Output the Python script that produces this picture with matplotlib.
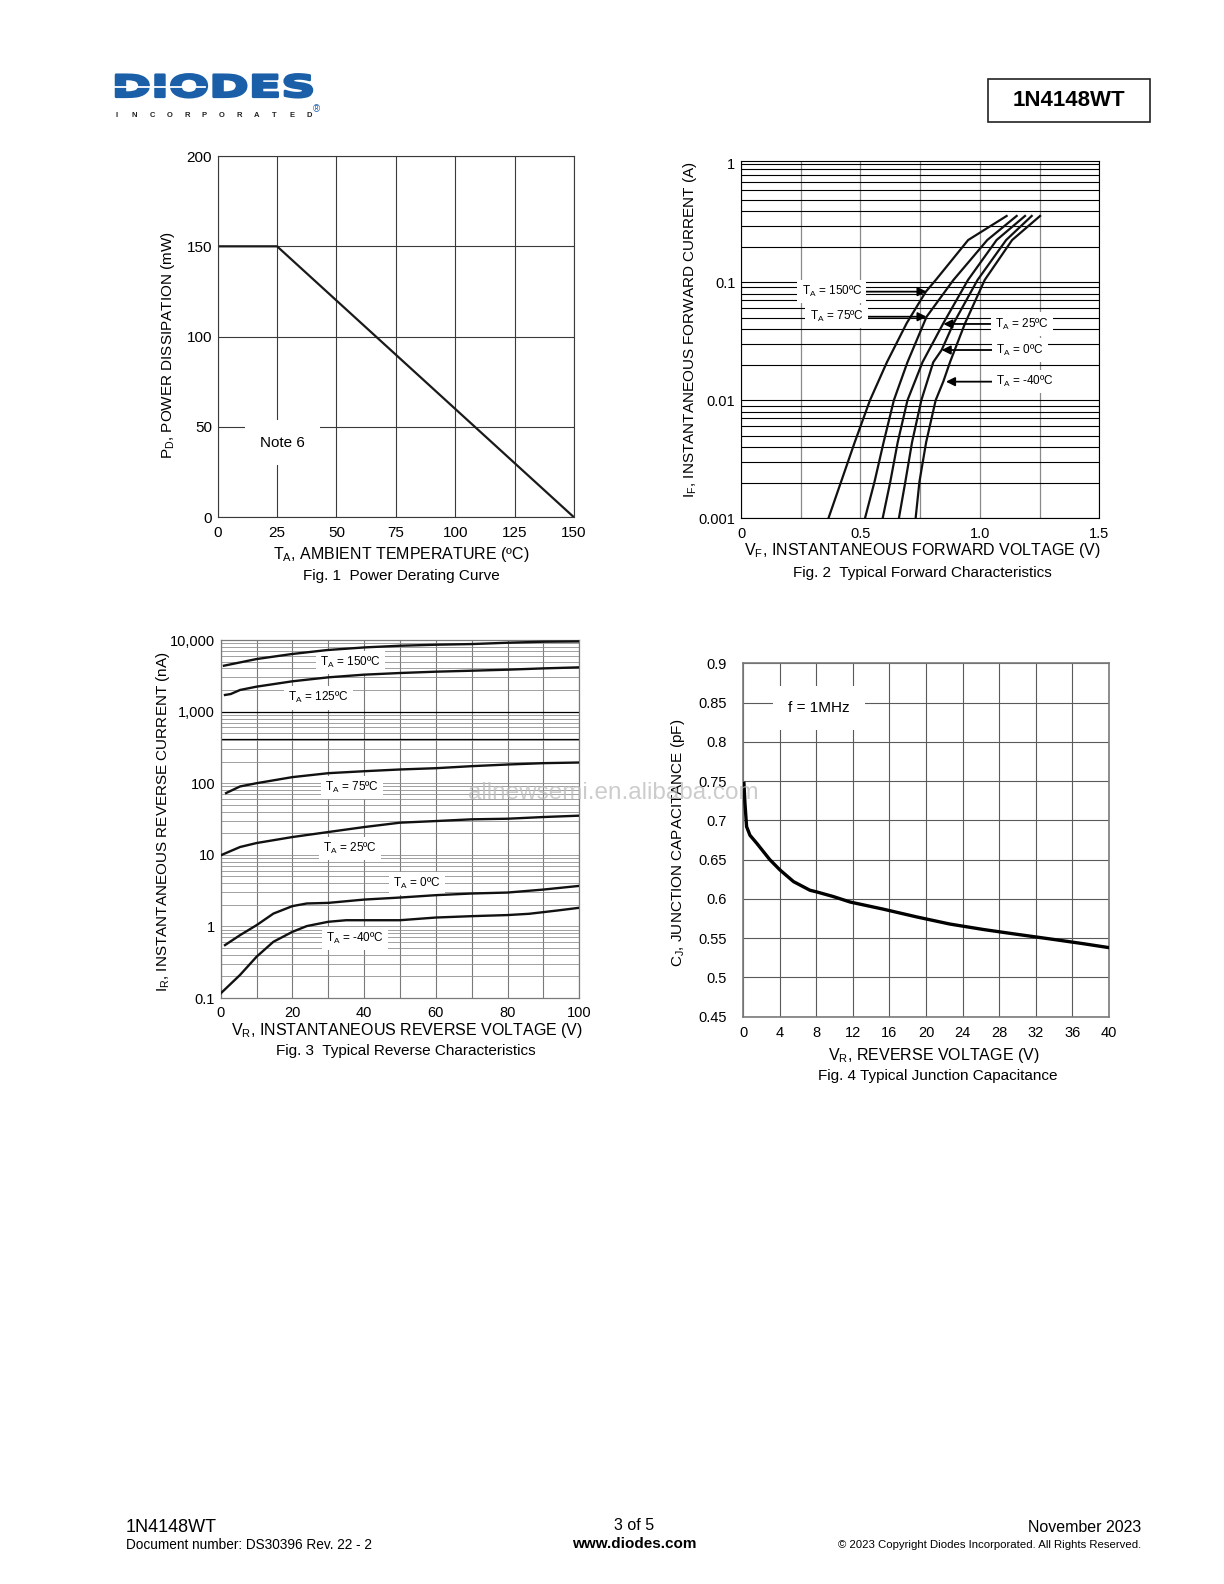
import matplotlib.pyplot as plt
from matplotlib.patches import PathPatch, Rectangle
from matplotlib.textpath import TextPath
from matplotlib.font_manager import FontProperties
from matplotlib.transforms import Affine2D
from matplotlib.ticker import LogLocator, NullFormatter

# 1N4148WT datasheet page 3 - typical characteristics

plt.rcParams['font.family'] = ['Liberation Sans', 'DejaVu Sans']
plt.rcParams['mathtext.fontset'] = 'custom'
plt.rcParams['mathtext.rm'] = 'Liberation Sans'
plt.rcParams['mathtext.it'] = 'Liberation Sans:italic'
plt.rcParams['mathtext.bf'] = 'Liberation Sans:bold'

# Fig. 1 power derating
ta_c = [0, 25, 150]
pd_mw = [150, 150, 0]

# Fig. 2 forward characteristics (V, A)
vf_150 = [0.366, 0.419, 0.476, 0.54, 0.611, 0.694, 0.774, 0.815, 0.951, 1.112]
if_150 = [0.001, 0.00204, 0.0044, 0.01, 0.021, 0.045, 0.083, 0.104, 0.227, 0.363]
vf_75 = [0.519, 0.559, 0.597, 0.64, 0.697, 0.777, 0.889, 1.031, 1.154]
if_75 = [0.001, 0.00204, 0.0044, 0.01, 0.021, 0.0509, 0.104, 0.227, 0.363]
vf_25 = [0.593, 0.625, 0.656, 0.697, 0.76, 0.847, 0.95, 1.07, 1.189]
if_25 = [0.001, 0.00204, 0.0044, 0.01, 0.021, 0.0448, 0.104, 0.227, 0.363]
vf_0 = [0.661, 0.688, 0.716, 0.755, 0.805, 0.84, 0.89, 0.99, 1.11, 1.217]
if_0 = [0.001, 0.00204, 0.0044, 0.01, 0.021, 0.0266, 0.0448, 0.104, 0.227, 0.363]
vf_m40 = [0.731, 0.747, 0.775, 0.815, 0.847, 0.875, 0.938, 1.02, 1.135, 1.252]
if_m40 = [0.001, 0.00204, 0.0044, 0.01, 0.0144, 0.021, 0.0448, 0.104, 0.227, 0.363]

# Fig. 3 reverse characteristics (V, nA)
vr_150 = [0.9, 10, 19.8, 29.6, 40.2, 50, 60, 70, 80, 90, 100]
ir_150 = [4375, 5420, 6365, 7230, 7885, 8315, 8590, 8775, 9160, 9460, 9550]
vr_125 = [1.2, 2.8, 5.4, 10, 20, 30, 40, 50, 60, 70, 80, 90, 100]
ir_125 = [1707, 1760, 2005, 2230, 2650, 3010, 3280, 3460, 3610, 3725, 3850, 4015, 4150]
vr_75 = [1.5, 5.4, 10, 20, 30, 40, 50, 60, 70, 80, 90, 100]
ir_75 = [72.8, 90.1, 100, 121.6, 138, 147, 155.5, 162, 173, 182.4, 190.5, 194.5]
vr_25 = [0, 5.4, 10, 20, 30, 40, 50, 60, 70, 80, 90, 100]
ir_25 = [9.84, 12.85, 14.6, 17.7, 20.8, 24.4, 28.1, 29.6, 31.3, 31.9, 33.7, 35.2]
vr_0 = [1.2, 5.4, 10, 14.7, 20, 24, 30, 40, 50, 60, 70, 80, 90, 100]
ir_0 = [0.548, 0.755, 1.04, 1.51, 1.92, 2.09, 2.13, 2.37, 2.53, 2.73, 2.88, 2.97, 3.27, 3.68]
vr_m40 = [0, 5.4, 10, 14.7, 20, 24, 30, 35, 40, 50, 60, 70, 80, 86, 94, 100]
ir_m40 = [0.116, 0.21, 0.377, 0.61, 0.84, 1.01, 1.16, 1.22, 1.22, 1.22, 1.33, 1.39, 1.44, 1.50, 1.67, 1.82]

# Fig. 4 junction capacitance (V, pF)
vr_cj = [0.07, 0.18, 0.36, 0.73, 1.46, 2.9, 4.0, 5.5, 7.3, 8, 9.85, 11.7, 15.3, 19, 22.6, 26.3, 29.9, 33.6, 37.2, 40]
cj_pf = [0.747, 0.722, 0.692, 0.681, 0.671, 0.650, 0.637, 0.622, 0.611, 0.609, 0.603, 0.596, 0.587,
         0.577, 0.568, 0.561, 0.555, 0.549, 0.543, 0.538]

W, H = 1224, 1584
fig = plt.figure(figsize=(W / 100, H / 100), dpi=100)


def box(x0, y0, x1, y1):
    return [x0 / W, 1 - y1 / H, (x1 - x0) / W, (y1 - y0) / H]


def label_box(pad=3):
    return dict(facecolor='white', edgecolor='none', pad=pad)


TICK_FS = 10.5
LAB_FS = 11

# ---------- Fig 1 ----------
ax1 = fig.add_axes(box(217.7, 156, 574, 517.3))
ax1.plot(ta_c, pd_mw, color='#1a1a1a', lw=1.6)
ax1.set_xlim(0, 150)
ax1.set_ylim(0, 200)
ax1.set_xticks(range(0, 151, 25))
ax1.set_yticks(range(0, 201, 50))
ax1.grid(True, color='#3a3a3a', lw=0.8)
ax1.tick_params(length=0, labelsize=TICK_FS + 0.5, pad=4)
ax1.tick_params(axis='x', pad=6)
for s in ax1.spines.values():
    s.set_color('#3a3a3a')
    s.set_linewidth(0.8)
ax1.text(27.2, 41.3, 'Note 6', ha='center', va='center', fontsize=LAB_FS, bbox=label_box(11), zorder=3)

# ---------- Fig 2 ----------
ax2 = fig.add_axes(box(741, 160.7, 1099.3, 518.3))
for v, i in [(vf_150, if_150), (vf_75, if_75), (vf_25, if_25), (vf_0, if_0), (vf_m40, if_m40)]:
    ax2.plot(v, i, color='#111111', lw=1.6, zorder=4)
ax2.set_yscale('log')
ax2.set_xlim(0, 1.5)
ax2.set_ylim(0.001, 1.066)
ax2.set_xticks([0, 0.25, 0.5, 0.75, 1.0, 1.25, 1.5])
ax2.set_xticklabels(['0', '', '0.5', '', '1.0', '', '1.5'])
ax2.set_yticks([0.001, 0.01, 0.1, 1])
ax2.set_yticklabels(['0.001', '0.01', '0.1', '1'])
ax2.yaxis.set_minor_locator(LogLocator(base=10, subs=range(2, 10)))
ax2.yaxis.set_minor_formatter(NullFormatter())
ax2.grid(True, axis='y', which='both', color='black', lw=0.8)
ax2.grid(True, axis='x', color='#8a8a8a', lw=0.9)
ax2.tick_params(which='both', length=0, labelsize=TICK_FS, pad=4)
ax2.tick_params(axis='x', pad=6)
for s in ax2.spines.values():
    s.set_color('black')
    s.set_linewidth(0.8)
arrow = dict(arrowstyle='-|>', color='black', lw=1.3, mutation_scale=13, shrinkA=0, shrinkB=0)
fig2_labels = [
    ('T$_\\mathregular{A}$ = 150ºC', (0.38, 0.083), (0.777, 0.083)),
    ('T$_\\mathregular{A}$ = 75ºC', (0.40, 0.0509), (0.777, 0.0509)),
    ('T$_\\mathregular{A}$ = 25ºC', (1.175, 0.0442), (0.847, 0.0442)),
    ('T$_\\mathregular{A}$ = 0ºC', (1.168, 0.0266), (0.840, 0.0266)),
    ('T$_\\mathregular{A}$ = -40ºC', (1.19, 0.01435), (0.858, 0.01435)),
]
for txt, xyt, xy in fig2_labels:
    ax2.annotate(txt, xy=xy, xytext=xyt, ha='center', va='center', fontsize=8.5,
                 bbox=label_box(3), arrowprops=arrow, zorder=5)

# ---------- Fig 3 ----------
ax3 = fig.add_axes(box(220.7, 640, 579.3, 998))
for v, i in [(vr_150, ir_150), (vr_125, ir_125), (vr_75, ir_75), (vr_25, ir_25), (vr_0, ir_0), (vr_m40, ir_m40)]:
    ax3.plot(v, i, color='#111111', lw=1.7, zorder=4)
ax3.set_yscale('log')
ax3.set_xlim(0, 100)
ax3.set_ylim(0.1, 10000)
ax3.set_xticks(range(0, 101, 10))
ax3.set_xticklabels(['0', '', '20', '', '40', '', '60', '', '80', '', '100'])
ax3.set_yticks([0.1, 1, 10, 100, 1000, 10000])
ax3.set_yticklabels(['0.1', '1', '10', '100', '1,000', '10,000'])
ax3.yaxis.set_minor_locator(LogLocator(base=10, subs=range(2, 10)))
ax3.yaxis.set_minor_formatter(NullFormatter())
ax3.grid(True, which='both', axis='y', color='#909090', lw=0.6)
ax3.grid(True, axis='x', color='#7a7a7a', lw=0.8)
ax3.axhline(1000, color='black', lw=0.9)
ax3.axhline(417, color='black', lw=0.9)
ax3.tick_params(which='both', length=0, labelsize=TICK_FS, pad=4)
ax3.tick_params(axis='x', pad=6)
for s in ax3.spines.values():
    s.set_color('#7a7a7a')
    s.set_linewidth(0.9)
fig3_labels = [
    ('T$_\\mathregular{A}$ = 150ºC', 36.1, 4860),
    ('T$_\\mathregular{A}$ = 125ºC', 27.3, 1552),
    ('T$_\\mathregular{A}$ = 75ºC', 36.6, 86.5),
    ('T$_\\mathregular{A}$ = 25ºC', 36.1, 12.2),
    ('T$_\\mathregular{A}$ = 0ºC', 54.7, 3.97),
    ('T$_\\mathregular{A}$ = -40ºC', 37.5, 0.68),
]
for txt, x, y in fig3_labels:
    ax3.text(x, y, txt, ha='center', va='center', fontsize=8.5, bbox=label_box(3), zorder=3)

# ---------- Fig 4 ----------
ax4 = fig.add_axes(box(743.3, 663.3, 1108.7, 1016.7))
ax4.plot(vr_cj, cj_pf, color='black', lw=2.4, zorder=4)
ax4.set_xlim(0, 40)
ax4.set_ylim(0.45, 0.9)
ax4.set_xticks(range(0, 41, 4))
yt = [0.45, 0.5, 0.55, 0.6, 0.65, 0.7, 0.75, 0.8, 0.85, 0.9]
ax4.set_yticks(yt)
ax4.set_yticklabels([f'{v:g}' for v in yt])
ax4.grid(True, color='#5a5a5a', lw=0.8)
ax4.tick_params(length=0, labelsize=TICK_FS, pad=12)
ax4.tick_params(axis='x', pad=7)
for s in ax4.spines.values():
    s.set_color('#7a7a7a')
    s.set_linewidth(1.2)
ax4.text(8.29, 0.843, 'f = 1MHz', ha='center', va='center', fontsize=LAB_FS, bbox=label_box(11), zorder=3)

# ---------- page overlay ----------
page = fig.add_axes([0, 0, 1, 1], zorder=10)
page.set_xlim(0, W)
page.set_ylim(H, 0)
page.axis('off')
page.patch.set_visible(False)

# logo
blue = '#1a5fa8'
tp = TextPath((0, 0), 'DIODES', size=1, prop=FontProperties(family='DejaVu Sans', weight='bold'))
bb = tp.get_extents()
lx0, lx1, ly0, ly1 = 116, 312, 74.3, 97.3
tr = Affine2D().translate(-bb.x0, -bb.y0).scale((lx1 - lx0) / bb.width, -(ly1 - ly0) / bb.height).translate(lx0, ly1)
page.add_patch(PathPatch(tr.transform_path(tp), facecolor=blue, edgecolor=blue, lw=1.8, joinstyle='round'))
page.plot([115, 205], [86.5, 86.5], color='white', lw=1.3)
for k, ch in enumerate('INCORPORATED'):
    page.text(117 + k * 17.5, 115.5, ch, ha='center', va='center', fontsize=5.5, fontweight='bold', color='#222222')
page.text(316, 109, '®', ha='center', va='center', fontsize=7, color=blue)

# part number box
page.add_patch(Rectangle((988.3, 79.3), 161.7, 42.4, fill=False, edgecolor='#222222', lw=1.2))
page.text(1069, 101, '1N4148WT', ha='center', va='center', fontsize=16, fontweight='bold')

# axis labels and captions
page.text(168, 345, 'P$_\\mathregular{D}$, POWER DISSIPATION (mW)', rotation=90, ha='center', va='center', fontsize=LAB_FS)
page.text(401.7, 559, 'T$_\\mathregular{A}$, AMBIENT TEMPERATURE (ºC)', ha='center', va='baseline', fontsize=LAB_FS + 0.5)
page.text(401.7, 580, 'Fig. 1  Power Derating Curve', ha='center', va='baseline', fontsize=LAB_FS)

page.text(690, 330, 'I$_\\mathregular{F}$, INSTANTANEOUS FORWARD CURRENT (A)', rotation=90, ha='center', va='center', fontsize=LAB_FS)
page.text(922.3, 555, 'V$_\\mathregular{F}$, INSTANTANEOUS FORWARD VOLTAGE (V)', ha='center', va='baseline', fontsize=LAB_FS + 0.5)
page.text(922.5, 576.5, 'Fig. 2  Typical Forward Characteristics', ha='center', va='baseline', fontsize=LAB_FS)

page.text(163.3, 821.7, 'I$_\\mathregular{R}$, INSTANTANEOUS REVERSE CURRENT (nA)', rotation=90, ha='center', va='center', fontsize=LAB_FS)
page.text(406.7, 1035, 'V$_\\mathregular{R}$, INSTANTANEOUS REVERSE VOLTAGE (V)', ha='center', va='baseline', fontsize=LAB_FS + 0.5)
page.text(406.3, 1055, 'Fig. 3  Typical Reverse Characteristics', ha='center', va='baseline', fontsize=LAB_FS)

page.text(678.3, 842.5, 'C$_\\mathregular{J}$, JUNCTION CAPACITANCE (pF)', rotation=90, ha='center', va='center', fontsize=LAB_FS)
page.text(934.2, 1060, 'V$_\\mathregular{R}$, REVERSE VOLTAGE (V)', ha='center', va='baseline', fontsize=LAB_FS + 0.5)
page.text(938, 1080, 'Fig. 4 Typical Junction Capacitance', ha='center', va='baseline', fontsize=LAB_FS)

# watermark
page.text(613, 793, 'allnewsemi.en.alibaba.com', ha='center', va='center', fontsize=17.5, color='#bcbcbc', alpha=0.75)

# footer
page.text(126, 1527, '1N4148WT', ha='left', va='center', fontsize=13)
page.text(126, 1545, 'Document number: DS30396 Rev. 22 - 2', ha='left', va='center', fontsize=9.8)
page.text(634, 1526, '3 of 5', ha='center', va='center', fontsize=11.5)
page.text(634, 1544, 'www.diodes.com', ha='center', va='center', fontsize=11, fontweight='bold')
page.text(1141, 1527, 'November 2023', ha='right', va='center', fontsize=11.5)
page.text(1141, 1545, '© 2023 Copyright Diodes Incorporated. All Rights Reserved.', ha='right', va='center', fontsize=8.2)

fig.savefig('out.png', dpi=100)
